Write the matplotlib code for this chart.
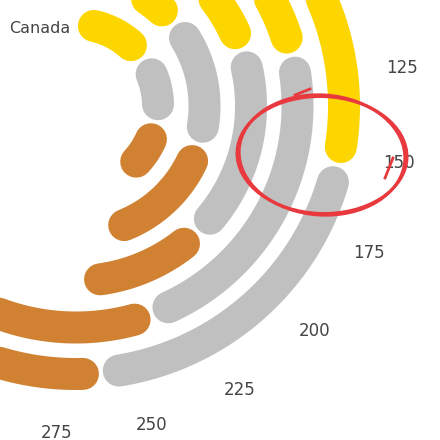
import numpy as np
import matplotlib
matplotlib.use("Agg")
import matplotlib.pyplot as plt
from matplotlib.patches import Ellipse

countries = ["Canada", "Germany", "Great Britain", "China", "United States"]
gold = [82, 75, 107, 115, 154]
silver = [70, 86, 97, 125, 108]
bronze = [66, 88, 63, 94, 90]
tick_values = [125, 150, 175, 200, 225, 250, 275]
full_circle = 540

colors = {"gold": "#FDD600", "silver": "#C0C0C0", "bronze": "#D08232"}

W = 440
fig = plt.figure(figsize=(4.4, 4.4), dpi=100)
cx, cy = 76, 106          # center in px (from top-left)
R = 340                   # radial limit in px
ax = fig.add_axes([(cx - R) / W, (W - cy - R) / W, 2 * R / W, 2 * R / W], projection="polar")
ax.set_theta_zero_location("N")
ax.set_theta_direction(-1)
ax.set_rlim(0, R)
ax.set_axis_off()

def th(v):
    return np.asarray(v) * 2 * np.pi / full_circle

lw_px = 32
lw_pt = lw_px * 72 / 100
for i, name in enumerate(countries):
    r = 82 + 46.5 * i
    b0 = 0
    for val, key in zip([gold[i], silver[i], bronze[i]], ["gold", "silver", "bronze"]):
        b1 = b0 + val
        d = (lw_px / 2 + 2) / r
        t = np.linspace(th(b0) + d, th(b1) - d, 100)
        ax.plot(t, np.full_like(t, r), color=colors[key], lw=lw_pt,
                solid_capstyle="round", zorder=2)
        b0 = b1
    if i == 0:
        ax.annotate(name, (0, r), xytext=(-4, -3), textcoords="offset points",
                    ha="right", va="center", fontsize=11.5, color="#444444",
                    annotation_clip=False)

for v in tick_values:
    ax.text(th(v), 328, str(v), ha="center", va="center", fontsize=12, color="#444444")

# hand-drawn red annotation
for dw, dh, ang in [(0, 0, -4), (4, -3, -2)]:
    fig.patches.append(Ellipse((322 / W, 1 - 155 / W), (166 + dw) / W, (120 + dh) / W,
                               angle=ang, fill=False, edgecolor="#E8393E", lw=2.2,
                               transform=fig.transFigure))
fig.lines.append(plt.Line2D([385 / W, 393 / W], [1 - 178 / W, 1 - 158 / W],
                            color="#E8393E", lw=2, transform=fig.transFigure))
fig.lines.append(plt.Line2D([295 / W, 310 / W], [1 - 95 / W, 1 - 89 / W],
                            color="#E8393E", lw=2, transform=fig.transFigure))

fig.savefig("out.png", dpi=100)
